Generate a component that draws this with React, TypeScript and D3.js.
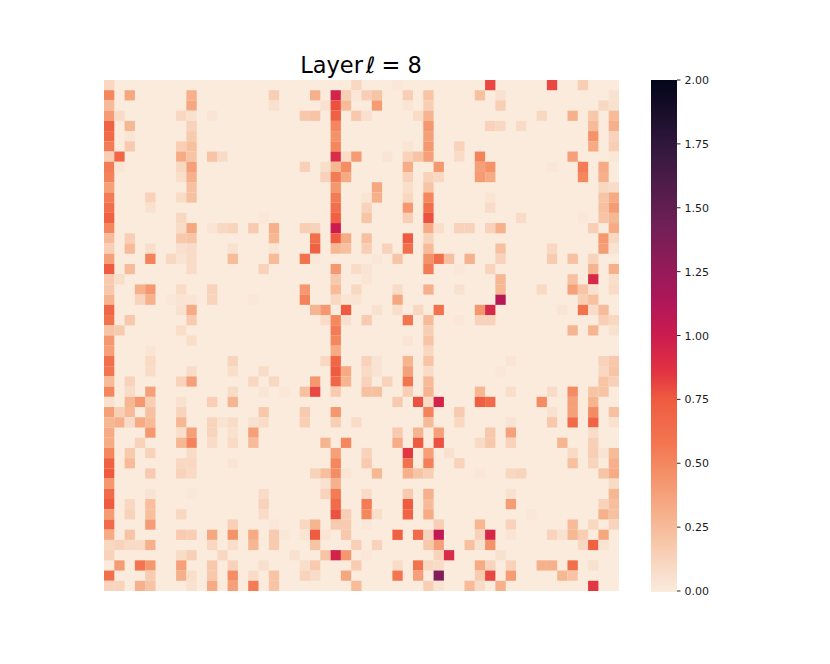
import React from "react";
import * as d3 from "d3";

// Non-zero heat values per row: { column index: value }
const heatRows: Record<number, number>[] = [
  {0:.1,24:.1,28:.02,37:.8,43:.8,46:.15},
  {0:.5,2:.35,8:.3,16:.15,20:.3,22:.95,23:.15,24:.02,25:.15,26:.2,29:.15,31:.2,36:.22,38:.05,49:.05},
  {0:.25,8:.35,16:.05,21:.05,22:.78,23:.25,26:.4,29:.03,31:.15,38:.15,48:.1,49:.05},
  {0:.4,1:.08,7:.1,8:.05,10:.03,19:.18,20:.2,22:.72,24:.18,25:.06,30:.08,31:.28,42:.1,45:.3,47:.18,49:.25},
  {0:.7,2:.27,8:.13,22:.5,31:.42,37:.13,38:.1,40:.08,47:.25,49:.3},
  {0:.65,2:.03,8:.17,22:.45,31:.38,47:.45,49:.13},
  {0:.55,2:.17,7:.15,8:.22,22:.5,29:.03,31:.42,34:.13,47:.33,49:.15},
  {0:.15,1:.68,7:.33,8:.2,10:.2,11:.08,22:.9,23:.08,24:.4,27:.03,29:.13,30:.2,31:.38,34:.08,36:.52,45:.38,49:.02},
  {0:.55,1:.03,7:.1,8:.38,19:.14,21:.07,22:.27,23:.47,29:.32,32:.42,36:.38,37:.45,43:.02,46:.55,48:.33},
  {0:.52,7:.07,8:.3,21:.13,22:.55,23:.33,29:.13,31:.13,32:.1,36:.4,37:.33,46:.5,48:.3},
  {0:.38,8:.22,22:.42,26:.35,29:.07,31:.2,48:.1,49:.08},
  {0:.55,4:.13,7:.08,8:.22,22:.55,25:.03,26:.3,29:.1,31:.5,37:.03,48:.2,49:.33},
  {0:.62,4:.05,22:.62,25:.13,29:.42,31:.62,37:.08,48:.22,49:.4},
  {0:.72,7:.1,15:.02,22:.72,25:.2,29:.15,31:.78,40:.08,46:.02,48:.2,49:.27},
  {0:.5,7:.08,8:.35,10:.03,11:.1,12:.12,14:.17,16:.3,19:.15,20:.13,22:1.0,31:.33,32:.07,34:.13,35:.13,37:.13,38:.3,47:.15,49:.33},
  {0:.25,2:.15,7:.18,8:.2,16:.27,20:.62,22:.75,23:.33,25:.22,29:.75,31:.12,48:.42,49:.1},
  {0:.15,2:.25,4:.07,7:.06,8:.08,12:.05,16:.03,20:.72,22:.27,23:.22,25:.15,27:.13,29:.62,31:.25,38:.22,43:.1,48:.4,49:.04},
  {0:.38,4:.52,6:.1,7:.04,8:.08,12:.25,16:.25,19:.6,20:.02,26:.02,28:.2,31:.45,32:.62,33:.22,35:.3,38:.13,43:.17,45:.22,47:.12},
  {0:.75,2:.25,8:.08,15:.13,22:.42,24:.08,25:.04,31:.55,34:.02,37:.12,47:.28,49:.3},
  {0:.17,1:.07,22:.18,25:.03,38:.27,45:.22,47:.92,49:.07},
  {0:.18,3:.3,4:.42,7:.08,10:.13,19:.42,22:.25,24:.1,28:.08,31:.3,34:.05,38:.27,42:.09,45:.38,46:.2,47:.05,49:.08},
  {0:.28,3:.12,4:.3,6:.02,7:.04,8:.03,10:.12,14:.02,19:.52,22:.1,23:.03,24:.04,28:.35,38:1.1,46:.15,47:.22},
  {0:.68,7:.05,8:.33,20:.28,21:.42,23:.75,26:.05,28:.07,30:.1,32:.6,36:.43,37:.92,44:.03,46:.6,47:.08,48:.25},
  {0:.6,2:.18,8:.17,21:.08,22:.5,23:.06,25:.17,29:.58,31:.25,34:.02,36:.13,37:.13,48:.15,49:.1},
  {0:.2,1:.17,7:.07,22:.55,31:.15,45:.28,47:.28,49:.05},
  {0:.42,8:.07,22:.5,29:.03,31:.2},
  {0:.38,4:.03,22:.33,31:.1},
  {0:.62,4:.09,12:.12,21:.1,22:.68,25:.13,26:.04,29:.28,31:.2,39:.03,48:.13,49:.18},
  {0:.58,4:.08,8:.08,12:.07,15:.08,22:.75,23:.33,25:.09,26:.04,29:.37,31:.08,38:.02,48:.1,49:.2},
  {0:.25,2:.13,7:.13,8:.38,14:.1,16:.1,20:.42,22:.68,23:.28,25:.13,27:.13,29:.58,31:.25,48:.2,49:.14},
  {0:.5,2:.08,4:.38,12:.08,15:.03,17:.02,19:.22,20:.8,22:.17,25:.22,26:.22,29:.15,31:.28,36:.27,39:.07,43:.08,45:.48,47:.2,48:.2},
  {0:.05,2:.27,3:.42,4:.15,7:.05,10:.15,12:.28,28:.17,30:.78,31:.09,32:.95,36:.73,37:.65,42:.48,45:.38,47:.28},
  {0:.38,1:.15,2:.25,4:.22,7:.12,15:.18,19:.17,22:.42,31:.52,34:.17,43:.05,45:.38,47:.48,49:.22},
  {0:.27,1:.3,2:.08,3:.33,4:.25,7:.27,10:.12,11:.04,12:.08,14:.05,15:.08,19:.15,22:.15,24:.08,31:.25,34:.1,39:.04,43:.18,45:.65,47:.7,49:.05},
  {0:.33,4:.42,7:.07,8:.38,10:.12,12:.05,14:.38,28:.17,30:.28,32:.38,37:.18,39:.37,47:.08},
  {0:.33,3:.13,7:.27,8:.52,10:.08,12:.09,14:.25,21:.28,23:.5,28:.32,30:.75,32:.78,36:.09,37:.18,39:.13,44:.28,47:.14},
  {0:.5,2:.17,4:.13,8:.08,22:.38,25:.13,29:.85,31:.38,33:.05,45:.09,47:.15,48:.04,49:.25},
  {0:.72,2:.25,7:.1,8:.1,12:.03,22:.5,25:.17,29:.6,31:.53,34:.13,45:.22,47:.12,49:.3},
  {0:.75,4:.17,7:.13,8:.09,20:.13,21:.23,22:.47,23:.03,26:.27,29:.3,30:.2,31:.15,36:.02,39:.1,40:.12,48:.2,49:.33},
  {0:.42,21:.05,22:.3,49:.08},
  {0:.65,4:.04,8:.02,15:.08,21:.12,22:.55,25:.08,29:.17,31:.3,39:.05,49:.27},
  {0:.75,2:.1,4:.23,15:.13,22:.65,25:.55,29:.75,31:.25,39:.4,48:.13,49:.23},
  {0:.4,2:.13,4:.23,7:.1,15:.08,22:.78,23:.15,25:.5,26:.07,29:.7,31:.33,41:.02,48:.3,49:.22},
  {0:.65,4:.4,12:.14,16:.02,19:.1,20:.28,22:.17,23:.17,25:.02,32:.15,36:.27,39:.13,45:.25,47:.1,49:.12},
  {0:.33,2:.2,7:.17,8:.15,10:.35,12:.45,14:.33,16:.17,17:.02,19:.03,20:.75,21:.03,23:.18,28:.72,30:.65,31:.13,32:1.05,36:.13,37:.93,39:.03,43:.12,44:.05,45:.27,46:.15,48:.35},
  {0:.1,1:.13,2:.09,3:.08,4:.3,10:.1,12:.07,14:.27,16:.17,20:.2,24:.14,26:.13,31:.18,32:.38,35:.22,36:.05,37:.45,46:.1,47:.72,48:.04},
  {0:.13,7:.08,8:.14,11:.1,18:.05,21:.2,22:.95,23:.42,25:.02,32:.12,33:.9,38:.05},
  {1:.4,3:.58,4:.42,7:.38,10:.18,12:.13,15:.06,19:.07,20:.17,24:.16,28:.08,30:.6,31:.1,32:.08,36:.33,37:.12,39:.13,42:.3,43:.3,45:.62,47:.05},
  {0:.62,4:.16,7:.3,8:.07,10:.18,12:.47,14:.08,16:.2,19:.12,20:.08,23:.35,28:.58,30:.38,32:1.35,36:.16,37:.8,39:.4,44:.27,45:.2},
  {0:.12,1:.12,3:.3,4:.2,8:.05,10:.33,12:.38,14:.55,16:.2,24:.25,31:.15,32:.04,35:.25,36:.08,38:.3,47:.85},
];

const columnCount = 50;
const colorTicks = [0, 0.25, 0.5, 0.75, 1, 1.25, 1.5, 1.75, 2];
const rocketPositions = [0, 1 / 7, 2 / 7, 3 / 7, 0.5, 4 / 7, 0.625, 5 / 7, 0.75, 6 / 7, 1];
const rocketStops = ["#03051a", "#35193e", "#701f57", "#ad1759", "#cb1b4f", "#e13342", "#ef5b40", "#f37651", "#f4875e", "#f6b48f", "#faebdd"];

const rocket = d3
  .scaleLinear<string>()
  .domain(rocketPositions)
  .range(rocketStops)
  .interpolate(d3.interpolateRgb);
const color = (v: number) => rocket(1 - v / 2);

export default function App() {
  const x = d3.scaleBand<number>().domain(d3.range(columnCount)).range([104, 619]);
  const y = d3.scaleBand<number>().domain(d3.range(heatRows.length)).range([80, 591]);
  const barY = d3.scaleLinear().domain([0, 2]).range([591, 80]);
  const barSteps = d3.range(256).map((i) => (i * 2) / 256);
  const font = "'DejaVu Sans', sans-serif";

  return (
    <svg width={830} height={664} style={{ position: "absolute", left: 0, top: 0, background: "#fff" }}>
      <text x={361} y={72.5} textAnchor="middle" fontFamily={font} fontSize={22.5} fill="#000">
        Layer<tspan fontStyle="italic" dx={3}>ℓ</tspan><tspan dx={-1}> = 8</tspan>
      </text>
      <rect x={104} y={80} width={515} height={511} fill={color(0)} />
      {heatRows.map((row, r) =>
        d3.range(columnCount).map((c) =>
          row[c] ? (
            <rect key={`${r}-${c}`} x={x(c)} y={y(r)} width={x.bandwidth()} height={y.bandwidth()} fill={color(row[c])} />
          ) : null
        )
      )}
      {barSteps.map((v) => (
        <rect
          key={v}
          x={651}
          y={barY(v + 2 / 256)}
          width={26}
          height={barY(0) - barY(2 / 256) + 0.6}
          fill={color(v)}
          shapeRendering="crispEdges"
        />
      ))}
      {colorTicks.map((t) => (
        <g key={t}>
          <line x1={677} x2={680.5} y1={barY(t)} y2={barY(t)} stroke="#262626" strokeWidth={1} />
          <text x={684.5} y={barY(t) + 4} fontFamily={font} fontSize={11} fill="#1a1a1a">
            {t.toFixed(2)}
          </text>
        </g>
      ))}
    </svg>
  );
}
